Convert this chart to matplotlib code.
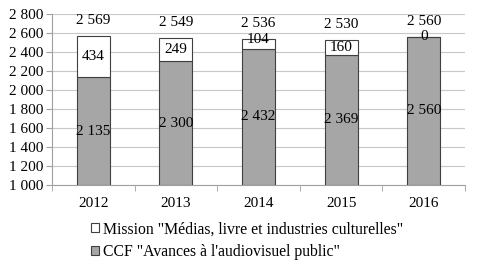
#!/usr/bin/env python3
"""Stacked bars: CCF audiovisuel public + mission Médias."""
import matplotlib.pyplot as plt
import numpy as np

years = ['2012', '2013', '2014', '2015', '2016']
ccf = [2135, 2300, 2432, 2369, 2560]
mission = [434, 249, 104, 160, 0]
totals = [2569, 2549, 2536, 2530, 2560]
ymin = 1000

def fmt(v):
    return f'{v:,}'.replace(',', ' ')

plt.rcParams['font.family'] = ['Liberation Serif', 'DejaVu Serif']
plt.rcParams['font.size'] = 11

fig = plt.figure(figsize=(4.81, 2.74), dpi=100)
ax = fig.add_axes([0.108, 0.325, 0.859, 0.624])

x = np.arange(len(years))
w = 0.4
ax.bar(x, np.array(ccf) - ymin, w, bottom=ymin, color='#a6a6a6', edgecolor='#404040', lw=0.8,
       label='CCF "Avances à l\'audiovisuel public"', zorder=3)
ax.bar(x, mission, w, bottom=ccf, color='white', edgecolor='#404040', lw=0.8,
       label='Mission "Médias, livre et industries culturelles"', zorder=3)

for i in range(len(years)):
    ax.text(x[i], (ccf[i] + ymin) / 2, fmt(ccf[i]), ha='center', va='center', zorder=4)
    if mission[i] > 150:
        ax.text(x[i], ccf[i] + mission[i] / 2, fmt(mission[i]), ha='center', va='center', zorder=4)
    else:
        ax.text(x[i], ccf[i] + mission[i], fmt(mission[i]), ha='center', va='center', zorder=4)
    ax.annotate(fmt(totals[i]), (x[i], totals[i]), xytext=(0, 11), textcoords='offset points',
                ha='center', va='center', zorder=4)

ax.set_ylim(ymin, 2800)
ax.set_xlim(-0.5, len(years) - 0.5)
ax.set_yticks(range(1000, 2801, 200))
ax.set_yticklabels([fmt(v) for v in range(1000, 2801, 200)])
ax.set_xticks(x)
ax.set_xticklabels(years)
ax.set_xticks(np.arange(-0.5, len(years)), minor=True)
ax.tick_params(axis='x', which='major', length=0, pad=9)
ax.tick_params(axis='x', which='minor', length=4, color='#a0a0a0')
ax.tick_params(axis='y', length=4, color='#a0a0a0', pad=2)
ax.grid(axis='y', color='#c8c8c8', lw=0.8, zorder=0)
for s in ['top', 'right']:
    ax.spines[s].set_visible(False)
for s in ['left', 'bottom']:
    ax.spines[s].set_color('#a0a0a0')

h, l = ax.get_legend_handles_labels()
fig.legend(h[::-1], l[::-1], loc='upper left', bbox_to_anchor=(0.176, 0.215), frameon=False,
           handlelength=0.5, handleheight=0.5, handletextpad=0.3, labelspacing=0.42,
           borderaxespad=0, fontsize=11.3)

plt.savefig('out.png', dpi=100)
